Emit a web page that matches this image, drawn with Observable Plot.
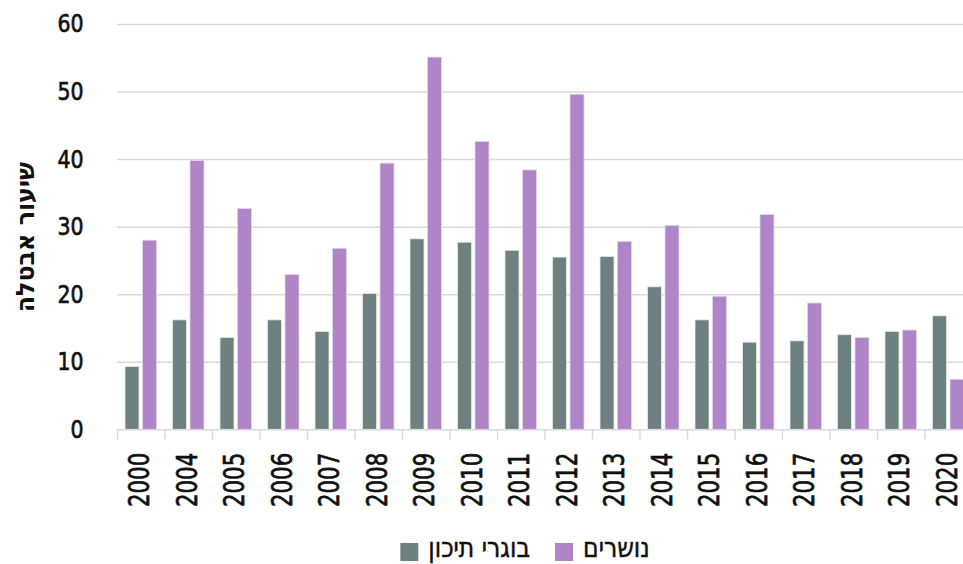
<!DOCTYPE html>
<html>
<head>
<meta charset="utf-8">
<script src="https://cdn.jsdelivr.net/npm/d3@7"></script>
<script src="https://cdn.jsdelivr.net/npm/@observablehq/plot@0.6"></script>
<style>
  body { margin: 0; background: #fff; }
  #chart { width: 963px; }
  #chart svg { display: block; overflow: visible; }
  .ytk text, .xtk text { stroke: #111; stroke-width: 0.7px; }
  .legend-text { stroke: #111; stroke-width: 0.5px; }
</style>
</head>
<body>
<div id="chart"></div>
<script>
const years = ["2000","2004","2005","2006","2007","2008","2009","2010","2011","2012","2013","2014","2015","2016","2017","2018","2019","2020"];
const graduates = [9.3,16.2,13.6,16.2,14.5,20.1,28.2,27.7,26.5,25.5,25.6,21.1,16.2,12.9,13.1,14.0,14.5,16.8];
const dropouts = [28.0,39.8,32.7,22.9,26.8,39.4,55.1,42.6,38.4,49.6,27.8,30.2,19.7,31.8,18.7,13.6,14.7,7.4];
const seriesNames = ["בוגרי תיכון", "נושרים"];
const colors = ["#6f8081", "#ae85c6"];
const yTicks = [0,10,20,30,40,50,60];
const yTitle = "שיעור אבטלה";

const gradData = years.map((y, i) => ({year: y, value: graduates[i]}));
const dropData = years.map((y, i) => ({year: y, value: dropouts[i]}));

const font = '"DejaVu Sans", sans-serif';

const plot = Plot.plot({
  width: 963,
  height: 520,
  marginTop: 24,
  marginLeft: 117,
  marginRight: 0,
  marginBottom: 90.7,
  style: {fontFamily: font, background: "#fff", color: "#111"},
  x: {domain: years, range: [117, 972], paddingInner: 0, paddingOuter: 0, round: false},
  y: {domain: [0, 60]},
  marks: [
    Plot.ruleY(yTicks, {stroke: "#d9d9d9", strokeWidth: 1.5}),
    Plot.ruleX(years, {x: d => d, dx: -23.75, y1: 0, y2: -1.5, stroke: "#d9d9d9", strokeWidth: 1.5}),
    Plot.barY(gradData, {x: "year", y: "value", fill: colors[0], insetLeft: 8, insetRight: 25.5, stroke: "#e6ecec", strokeWidth: 0.8}),
    Plot.barY(dropData, {x: "year", y: "value", fill: colors[1], insetLeft: 25.5, insetRight: 8, stroke: "#e4d4ee", strokeWidth: 0.8}),
    Plot.axisY({ticks: yTicks, tickSize: 0, tickPadding: 34, fontSize: 24.7, label: null, className: "ytk"}),
    Plot.axisX({tickSize: 0, tickPadding: 23, tickRotate: -90, fontSize: 28, dx: -1, label: null, className: "xtk"}),
    Plot.text([yTitle], {frameAnchor: "left", dx: -92, dy: 10, rotate: -90, textAnchor: "middle", fontSize: 25, fontWeight: "bold", fill: "#111", className: "ytitle"})
  ]
});
document.getElementById("chart").appendChild(plot);

function condense(sel, factor) {
  sel.each(function() {
    const len = this.getComputedTextLength();
    if (len > 0) {
      this.setAttribute("textLength", len * factor);
      this.setAttribute("lengthAdjust", "spacingAndGlyphs");
    }
  });
}
const svg = d3.select(plot);
condense(svg.selectAll(".ytk text"), 0.83);
condense(svg.selectAll(".xtk text"), 0.76);
condense(svg.selectAll(".ytitle text"), 0.95);

// legend below the chart
const lw = 963, lh = 44;
const lsvg = d3.select("#chart").append("svg").attr("width", lw).attr("height", lh)
  .style("font-family", font);
const sq = 18, gapSwatch = 10, gapItem = 25, legendCenter = 525, legendMid = 32, legendBaseline = 37;
const items = seriesNames.map((name, i) => {
  const g = lsvg.append("g");
  g.append("rect").attr("width", sq).attr("height", sq).attr("y", legendMid - sq / 2).attr("fill", colors[i]);
  const t = g.append("text").attr("class", "legend-text").attr("x", sq + gapSwatch).attr("y", legendBaseline)
    .attr("font-size", 28).attr("fill", "#111").text(name);
  return {g, t};
});
condense(lsvg.selectAll("text"), 0.84);
const widths = items.map(({t}) => sq + gapSwatch + (+t.attr("textLength") || t.node().getComputedTextLength()));
const total = d3.sum(widths) + gapItem * (items.length - 1);
let x0 = legendCenter - total / 2;
items.forEach(({g}, i) => {
  g.attr("transform", `translate(${x0},0)`);
  x0 += widths[i] + gapItem;
});
</script>
</body>
</html>
